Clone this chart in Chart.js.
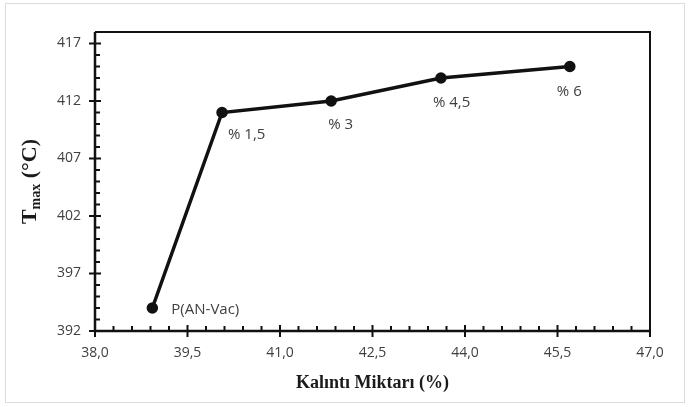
<!DOCTYPE html>
<html lang="tr">
<head>
<meta charset="UTF-8">
<title>Tmax - Kalıntı Miktarı</title>
<script src="https://cdn.jsdelivr.net/npm/chart.js@4.4.1/dist/chart.umd.min.js"></script>
<style>
    html, body { margin: 0; padding: 0; background: #fff; }
    #wrap { width: 689px; height: 407px; }
</style>
</head>
<body>
<div id="wrap"><canvas id="tmaxChart" width="689" height="407"></canvas></div>
<script>
// Kalıntı miktarı (%) ve Tmax (°C) değerleri
const kalinti = [38.93, 40.06, 41.83, 43.61, 45.70];
const tmax = [394, 411, 412, 414, 415];
const etiketler = ['P(AN-Vac)', '% 1,5', '% 3', '% 4,5', '% 6'];

// Eksen değerleri
const xTicks = [38.0, 39.5, 41.0, 42.5, 44.0, 45.5, 47.0];
const yTicks = [392, 397, 402, 407, 412, 417];

// Etiketlerin noktaya göre kayması (sol kenar, dikey orta)
const etiketKayma = [[19, 2], [6, 22], [-3, 24], [-8, 25], [-13, 25]];

const koyu = '#111';
const yaziRengi = '#404040';
const tickFont = { family: 'Open Sans', size: 14 };

const virgul = v => v.toFixed(1).replace('.', ',');

// Çerçeve, kısa/uzun tik çizgileri, eksen başlıkları ve nokta etiketleri
const eksenCizimi = {
    id: 'eksenCizimi',
    beforeDraw(chart) {
        const c = chart.ctx;
        c.save();
        c.strokeStyle = '#dcdcdc';
        c.lineWidth = 1;
        c.strokeRect(5.5, 3.5, 679, 399);
        c.restore();
    },
    beforeDatasetsDraw(chart) {
        const c = chart.ctx;
        const a = chart.chartArea;
        const xs = chart.scales.x, ys = chart.scales.y;
        c.save();
        c.strokeStyle = koyu;

        // üst ve sağ kenar
        c.lineWidth = 2;
        c.beginPath();
        c.moveTo(a.left, a.top); c.lineTo(a.right, a.top); c.lineTo(a.right, a.bottom);
        c.stroke();

        // eksen çizgileri
        c.lineWidth = 2.5;
        c.beginPath();
        c.moveTo(a.left, a.top); c.lineTo(a.left, a.bottom); c.lineTo(a.right, a.bottom);
        c.stroke();

        // y tikleri
        c.lineWidth = 2;
        c.beginPath();
        for (let v = ys.min; v <= ys.max + 1e-6; v += 1) {
            const py = ys.getPixelForValue(v);
            if (yTicks.includes(v)) { c.moveTo(a.left - 6, py); c.lineTo(a.left + 6, py); }
            else { c.moveTo(a.left, py); c.lineTo(a.left + 5, py); }
        }
        // x tikleri
        for (let i = 0; i <= 30; i++) {
            const v = xs.min + i * 0.3;
            const px = xs.getPixelForValue(v);
            if (i % 5 === 0) { c.moveTo(px, a.bottom - 6); c.lineTo(px, a.bottom + 6); }
            else { c.moveTo(px, a.bottom - 5); c.lineTo(px, a.bottom); }
        }
        c.stroke();

        // x ekseni başlığı
        c.fillStyle = '#1a1a1a';
        c.font = 'bold 18px "Liberation Serif"';
        c.textAlign = 'center';
        c.textBaseline = 'middle';
        c.fillText('Kalıntı Miktarı (%)', (a.left + a.right) / 2, 383);

        // y ekseni başlığı: T_max (°C)
        c.translate(28, (a.top + a.bottom) / 2);
        c.rotate(-Math.PI / 2);
        const buyuk = 'bold 22px "Liberation Serif"';
        const kucuk = 'bold 14px "Liberation Serif"';
        c.font = buyuk; const wT = c.measureText('T').width;
        const wP = c.measureText(' (°C)').width;
        c.font = kucuk; const wM = c.measureText('max').width;
        let x0 = -(wT + wM + wP) / 2;
        c.textAlign = 'left';
        c.textBaseline = 'alphabetic';
        c.font = buyuk; c.fillText('T', x0, 8);
        c.font = kucuk; c.fillText('max', x0 + wT, 12);
        c.font = buyuk; c.fillText(' (°C)', x0 + wT + wM, 8);
        c.restore();
    },
    afterDatasetsDraw(chart) {
        const c = chart.ctx;
        const pts = chart.getDatasetMeta(0).data;
        c.save();
        c.fillStyle = yaziRengi;
        c.font = '15px "Open Sans"';
        c.textAlign = 'left';
        c.textBaseline = 'middle';
        etiketler.forEach((t, i) => {
            c.fillText(t, pts[i].x + etiketKayma[i][0], pts[i].y + etiketKayma[i][1]);
        });
        c.restore();
    }
};

new Chart(document.getElementById('tmaxChart'), {
    type: 'scatter',
    data: {
        datasets: [{
            data: kalinti.map((x, i) => ({ x, y: tmax[i] })),
            showLine: true,
            borderColor: koyu,
            borderWidth: 3.5,
            backgroundColor: koyu,
            pointRadius: 4,
            pointHoverRadius: 4,
            tension: 0
        }]
    },
    options: {
        responsive: false,
        animation: false,
        events: [],
        layout: { padding: { top: 32, right: 39, left: 0, bottom: 0 } },
        plugins: { legend: { display: false }, tooltip: { enabled: false } },
        scales: {
            x: {
                type: 'linear',
                min: 38, max: 47,
                grid: { display: false, drawTicks: false },
                border: { display: false },
                afterBuildTicks: s => { s.ticks = xTicks.map(v => ({ value: v })); },
                afterFit: s => { s.height = 76; },
                ticks: { color: yaziRengi, font: tickFont, padding: 14, maxRotation: 0, callback: v => virgul(v) }
            },
            y: {
                type: 'linear',
                min: 392, max: 418,
                grid: { display: false, drawTicks: false },
                border: { display: false },
                afterBuildTicks: s => { s.ticks = yTicks.map(v => ({ value: v })); },
                afterFit: s => { s.width = 95; },
                ticks: { color: yaziRengi, font: tickFont, padding: 14 }
            }
        }
    },
    plugins: [eksenCizimi]
});
</script>
</body>
</html>
